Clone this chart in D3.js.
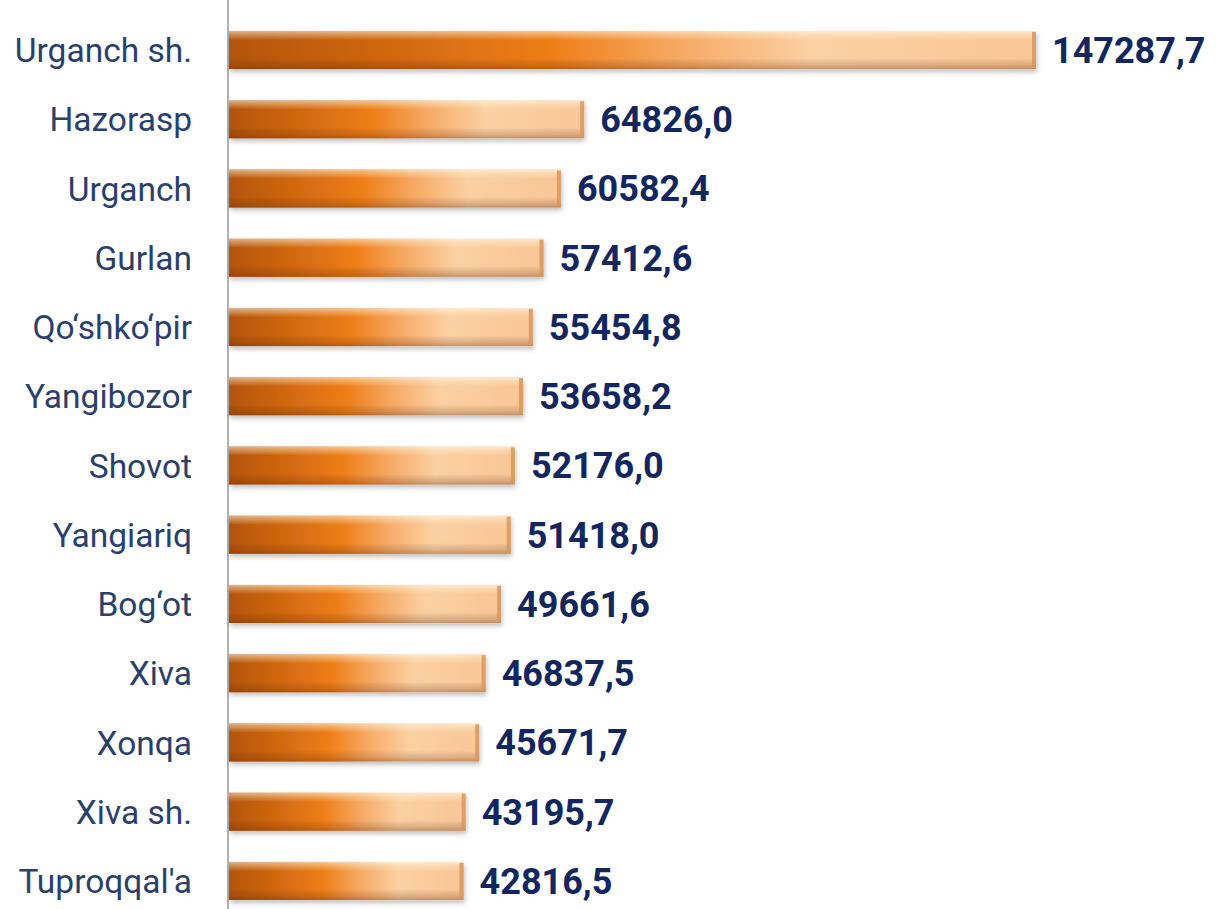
<!DOCTYPE html>
<html><head><meta charset="utf-8">
<script src="https://cdn.jsdelivr.net/npm/d3@7"></script>
<style>
html,body{margin:0;padding:0;background:#fff;}
svg{display:block;}
</style></head>
<body>
<svg id="chart" width="1220" height="909"></svg>
<script>
const categories = ["Urganch sh.","Hazorasp","Urganch","Gurlan","Qo‘shko‘pir","Yangibozor","Shovot","Yangiariq","Bog‘ot","Xiva","Xonqa","Xiva sh.","Tuproqqal'a"];
const values = [147287.7,64826.0,60582.4,57412.6,55454.8,53658.2,52176.0,51418.0,49661.6,46837.5,45671.7,43195.7,42816.5];
const valueLabels = ["147287,7","64826,0","60582,4","57412,6","55454,8","53658,2","52176,0","51418,0","49661,6","46837,5","45671,7","43195,7","42816,5"];

const svg = d3.select("#chart");
const W = 1220, H = 909;
const x0 = 229;
const x = d3.scaleLinear().domain([0, 147287.7]).range([x0, 1036]);
const y = d3.scaleBand().domain(categories).range([15.4, 915.6]).paddingInner(0.45).paddingOuter(0.225);

const defs = svg.append("defs");
const hg = defs.append("linearGradient").attr("id","hg").attr("x1",0).attr("x2",1).attr("y1",0).attr("y2",0);
[[0,"#b3550f"],[0.15,"#c9630f"],[0.4,"#ee7e18"],[0.56,"#f6aa66"],[0.72,"#fbd0a2"],[1,"#f9c697"]].forEach(([o,c])=>hg.append("stop").attr("offset",o).attr("stop-color",c));
const vg = defs.append("linearGradient").attr("id","vg").attr("x1",0).attr("x2",0).attr("y1",0).attr("y2",1);
[[0,"#fff",0.55],[0.12,"#fff8d0",0.3],[0.24,"#fff",0],[0.72,"#000",0],[0.9,"#5a2000",0.18],[1,"#5a2000",0.35]].forEach(([o,c,a])=>vg.append("stop").attr("offset",o).attr("stop-color",c).attr("stop-opacity",a));
const f = defs.append("filter").attr("id","sh").attr("x","-5%").attr("y","-30%").attr("width","110%").attr("height","180%");
f.append("feDropShadow").attr("dx",1).attr("dy",3).attr("stdDeviation",2.5).attr("flood-color","#000").attr("flood-opacity",0.25);

// axis line
svg.append("line").attr("x1",x0-1).attr("x2",x0-1).attr("y1",0).attr("y2",H).attr("stroke","#9a9a9a").attr("stroke-width",1.5);

const g = svg.append("g").selectAll("g").data(categories).join("g");
g.append("rect").attr("x",x0).attr("y",d=>y(d)).attr("width",(d,i)=>x(values[i])-x0).attr("height",y.bandwidth())
  .attr("fill","url(#hg)").attr("filter","url(#sh)");
g.append("rect").attr("x",x0).attr("y",d=>y(d)).attr("width",(d,i)=>x(values[i])-x0).attr("height",y.bandwidth())
  .attr("fill","url(#vg)");
// right bevel
g.append("rect").attr("x",(d,i)=>x(values[i])-4).attr("y",d=>y(d)+1).attr("width",4).attr("height",y.bandwidth()-2)
  .attr("fill","#d9965a").attr("opacity",0.85);

// labels
svg.append("g").selectAll("text").data(categories).join("text")
  .attr("x",192).attr("y",d=>y(d)+y.bandwidth()/2).attr("dy","0.36em")
  .attr("text-anchor","end").attr("font-family","Roboto, 'Liberation Sans', sans-serif")
  .attr("font-size",33.5).attr("fill","#2b3f6c").text(d=>d);

svg.append("g").selectAll("text").data(categories).join("text")
  .attr("x",(d,i)=>x(values[i])+16).attr("y",d=>y(d)+y.bandwidth()/2).attr("dy","0.36em")
  .attr("font-family","Roboto, 'Liberation Sans', sans-serif").attr("font-weight","bold")
  .attr("font-size",36).attr("fill","#13265e").text((d,i)=>valueLabels[i]);
</script>
</body></html>
